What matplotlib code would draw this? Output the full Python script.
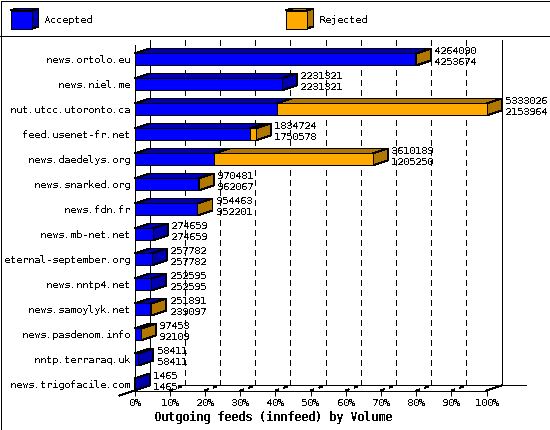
import matplotlib
matplotlib.use("Agg")
import matplotlib.pyplot as plt
from matplotlib.patches import Polygon, Rectangle

plt.rcParams["lines.scale_dashes"] = False
plt.rcParams["font.family"] = "DejaVu Sans Mono"
plt.rcParams["font.size"] = 10.4
plt.rcParams["text.hinting"] = "native"
plt.rcParams["text.hinting_factor"] = 1

hosts = ["news.ortolo.eu", "news.niel.me", "nut.utcc.utoronto.ca", "feed.usenet-fr.net",
         "news.daedelys.org", "news.snarked.org", "news.fdn.fr", "news.mb-net.net",
         "eternal-september.org", "news.nntp4.net", "news.samoylyk.net", "news.pasdenom.info",
         "nntp.terraraq.uk", "news.trigofacile.com"]
offered = [4264090, 2231321, 5333026, 1834724, 3610189, 970481, 954463,
           274659, 257782, 252595, 251891, 97453, 58411, 1465]
accepted = [4253674, 2231321, 2153964, 1750578, 1205250, 962067, 952201,
            274659, 257782, 252595, 239097, 92109, 58411, 1465]
ticks = [0, 10, 20, 30, 40, 50, 60, 70, 80, 90, 100]
xlabel = "Outgoing feeds (innfeed) by Volume"
legend_names = ["Accepted", "Rejected"]

BLUE, DARK_BLUE = "#0000ff", "#0000b2"
ORANGE, DARK_ORANGE = "#ffaa00", "#b27700"
DX = 100 * 15 / 352  # depth of the fake 3d, in data units
DY = 5 / 25
H = 12 / 25

fig = plt.figure(figsize=(550 / 72, 430 / 72), dpi=72)

# page furniture in pixel coordinates
bg = fig.add_axes([0, 0, 1, 1])
bg.set_xlim(0, 550)
bg.set_ylim(430, 0)
bg.axis("off")
bg.add_patch(Rectangle((0.5, 0.5), 549, 429, fill=False, ec="black", lw=1, antialiased=False))
bg.plot([0, 550], [35.5, 35.5], color="black", lw=1, antialiased=False)

for x0, name, face, dark in [(10.5, legend_names[0], BLUE, DARK_BLUE),
                             (285.5, legend_names[1], ORANGE, DARK_ORANGE)]:
    l, r, t, b = x0, x0 + 21, 10.5, 28.5
    bg.add_patch(Polygon([(l, t), (r, t), (r + 7, t - 2), (l + 7, t - 2)], fc=dark, ec="black", lw=1, antialiased=False))
    bg.add_patch(Polygon([(r, t), (r + 7, t - 2), (r + 7, b - 2), (r, b)], fc=dark, ec="black", lw=1, antialiased=False))
    bg.add_patch(Rectangle((l, t), 21, 18, fc=face, ec="black", lw=1, antialiased=False))
    bg.text(x0 + 33.5, 20, name, va="center", ha="left", antialiased=False)

ax = fig.add_axes([134.5 / 550, 39.5 / 430, 352 / 550, 345 / 430])
ax.patch.set_alpha(0)
ax.set_xlim(0, 100)
ax.set_ylim(13.24, -0.56)
for s in ["top", "right"]:
    ax.spines[s].set_visible(False)
for s in ["left", "bottom"]:
    ax.spines[s].set_antialiased(False)
    ax.spines[s].set_linewidth(1)

ax.set_yticks(range(len(hosts)), hosts)
ax.set_xticks(ticks, [f"{t}%" for t in ticks])
ax.tick_params(axis="y", length=0, pad=4.5)
ax.tick_params(axis="x", length=5, width=1, pad=3)
for lab in ax.get_xticklabels() + ax.get_yticklabels():
    lab.set_antialiased(False)
for t in ax.xaxis.get_major_ticks():
    t.tick1line.set_antialiased(False)

top_back = -0.56 - DY
floor = 13.24
floor_back = floor - DY


def line(xs, ys, **kw):
    ax.plot(xs, ys, color="black", lw=1, antialiased=False, clip_on=False, zorder=1, **kw)


# walls, floor and grid
line([DX, DX], [top_back, floor_back])
line([100 + DX, 100 + DX], [top_back, floor_back])
line([12.36, 111.1], [floor_back, floor_back])
line([-DX, 0], [floor + DY, floor])
line([100, 100 + DX], [floor, floor_back])
for t in ticks[1:-1]:
    line([t + DX, t + DX], [top_back, floor_back], linestyle=(0, (5, 4)))
    line([t, t + DX], [floor, floor_back], linestyle=(0, (3, 5)))

# bars
scale = max(offered)
for i, (off, acc) in enumerate(zip(offered, accepted)):
    a = 100 * acc / scale
    o = 100 * off / scale
    top, bot = i - H / 2, i + H / 2
    for x1, x2, dark in [(0, a, DARK_BLUE), (a, o, DARK_ORANGE)]:
        if x2 > x1:
            ax.add_patch(Polygon([(x1, top), (x2, top), (x2 + DX, top - DY), (x1 + DX, top - DY)],
                                 fc=dark, ec="black", lw=1, antialiased=False, clip_on=False, zorder=2))
    side = DARK_ORANGE if o > a else DARK_BLUE
    ax.add_patch(Polygon([(o, top), (o + DX, top - DY), (o + DX, bot - DY), (o, bot)],
                         fc=side, ec="black", lw=1, antialiased=False, clip_on=False, zorder=2))
    for ypos, val in [(-9, off), (2, acc)]:
        ax.annotate(str(val), (o + DX, i), xytext=(3.5, -ypos - 1), textcoords="offset points",
                    ha="left", va="center", antialiased=False, zorder=5, annotation_clip=False)

ax.barh(range(len(hosts)), [100 * a / scale for a in accepted], height=H, color=BLUE,
        edgecolor="black", linewidth=1, antialiased=False, zorder=3, clip_on=False)
ax.barh(range(len(hosts)), [100 * (o - a) / scale for o, a in zip(offered, accepted)], height=H,
        left=[100 * a / scale for a in accepted], color=ORANGE,
        edgecolor="black", linewidth=1, antialiased=False, zorder=3, clip_on=False)

bg.text(273.5, 417, xlabel, ha="center", va="center", fontsize=11.6, fontweight="bold", antialiased=False)

fig.savefig("out.png", dpi=72)
